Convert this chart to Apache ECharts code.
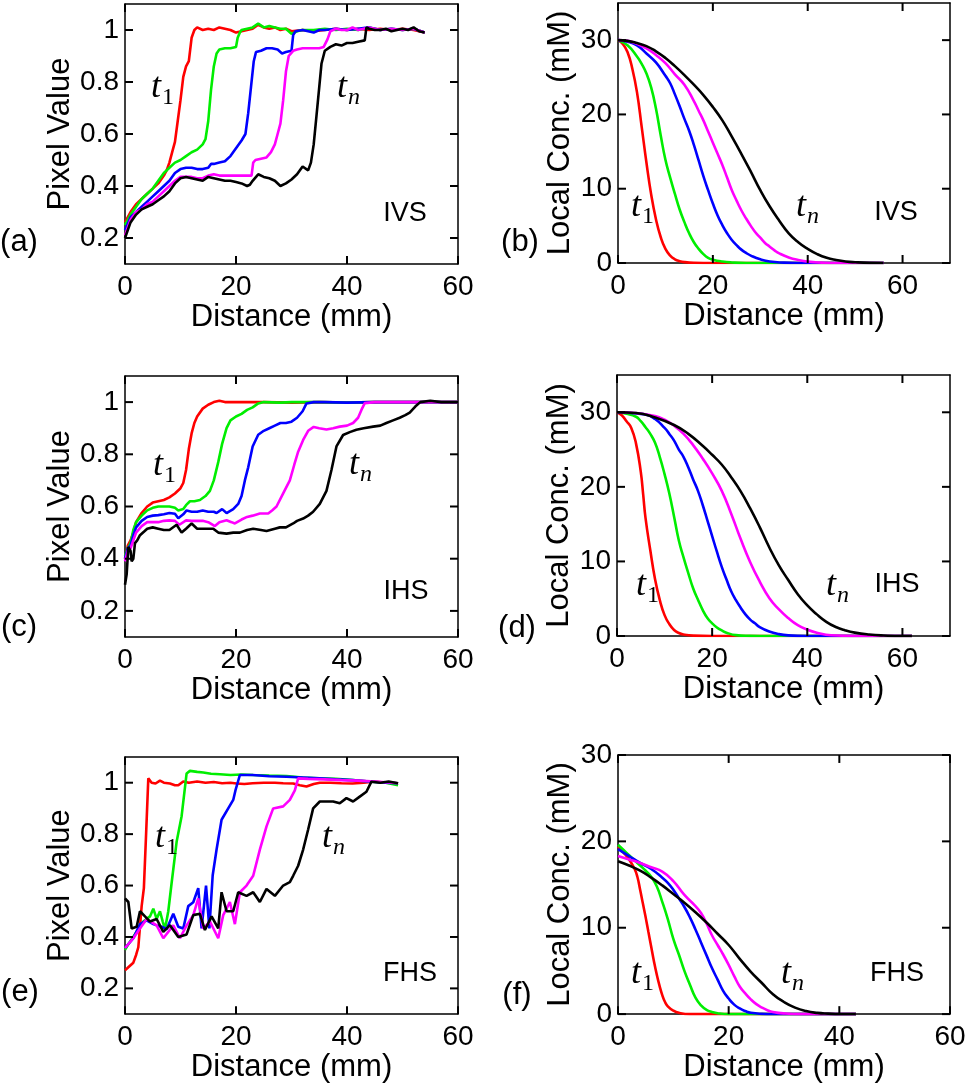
<!DOCTYPE html>
<html>
<head>
<meta charset="utf-8">
<script src="https://cdn.jsdelivr.net/npm/echarts@6/dist/echarts.min.js"></script>
<style>
  html, body { margin: 0; padding: 0; background: #fff; }
  #chart { width: 969px; height: 1084px; }
</style>
</head>
<body>
<div id="chart"></div>
<script>
// ---- data: [distance (mm), value] ----
// (a) IVS pixel profiles
const ivsRed = [[0,0.26],[1,0.30],[2,0.33],[3,0.35],[4,0.37],[5,0.39],[6,0.41],[7,0.44],[7.5,0.46],[8,0.49],[8.5,0.53],[9,0.57],[9.5,0.65],[10,0.73],[10.5,0.82],[11,0.86],[11.5,0.88],[12,0.97],[12.5,1.0],[13,1.01],[14,1.0],[15,1.005],[16,1.0],[17,1.01],[18,1.005],[19,1.0],[20,0.99],[21,0.995],[22,1.0],[23,1.005],[24,1.02],[25,1.01],[26,1.005],[27,1.01],[28,1.0],[29,1.005],[30,0.995],[32,1.0],[34,0.995],[36,1.0],[38,1.005],[40,1.0],[42,1.005],[44,1.0],[46,1.005],[48,1.0],[50,1.005],[52,1.0],[54,0.99]];
const ivsGreen = [[0,0.25],[1,0.29],[2,0.32],[3,0.35],[4,0.37],[5,0.39],[6,0.42],[7,0.45],[8,0.47],[9,0.49],[10,0.50],[11,0.515],[12,0.53],[13,0.54],[14,0.56],[14.5,0.58],[15,0.65],[15.5,0.77],[16,0.86],[16.5,0.91],[17,0.925],[18,0.93],[19,0.93],[20,0.935],[20.3,0.97],[20.7,0.99],[21,1.0],[22,1.005],[23,1.01],[24,1.025],[25,1.01],[26,1.015],[27,1.01],[28,1.005],[29,1.005],[30,0.985],[31,0.995],[32,1.0],[34,1.0],[36,1.005],[38,1.0],[40,1.005],[42,1.0],[44,1.01],[46,1.0],[48,1.005],[50,1.0],[52,1.005],[54,0.99]];
const ivsBlue = [[0,0.23],[1,0.28],[2,0.30],[3,0.32],[4,0.34],[5,0.36],[6,0.38],[7,0.40],[8,0.42],[9,0.45],[10,0.465],[11,0.47],[12,0.47],[13,0.465],[14,0.465],[15,0.47],[15.5,0.485],[16,0.485],[17,0.49],[18,0.495],[19,0.515],[20,0.545],[21,0.575],[21.7,0.60],[22.2,0.68],[22.7,0.78],[23.2,0.88],[23.6,0.915],[24.5,0.92],[25.5,0.93],[26.5,0.93],[27.5,0.925],[28.3,0.91],[29,0.915],[30,0.92],[30.3,0.98],[30.7,0.995],[32,1.0],[33,0.995],[34,0.99],[35,1.0],[36,1.0],[38,1.005],[40,1.0],[42,1.005],[44,1.01],[46,1.0],[48,1.005],[50,1.0],[52,1.005],[54,0.99]];
const ivsMagenta = [[0,0.21],[1,0.27],[2,0.30],[3,0.31],[4,0.33],[5,0.34],[6,0.36],[7,0.38],[8,0.40],[9,0.42],[10,0.435],[11,0.435],[12,0.435],[13,0.43],[14,0.43],[15,0.44],[16,0.445],[17,0.44],[18,0.44],[19,0.44],[20,0.44],[21,0.44],[22,0.44],[22.8,0.44],[23.1,0.49],[23.5,0.50],[24.5,0.505],[25.5,0.51],[26.3,0.53],[27,0.56],[27.5,0.60],[28,0.64],[28.5,0.73],[29,0.84],[29.5,0.90],[30.3,0.92],[31,0.925],[32,0.93],[33,0.93],[34,0.93],[35,0.93],[35.8,0.935],[36.5,0.965],[37,0.995],[38,1.005],[39,1.0],[40,1.0],[41,1.01],[42,1.0],[43,1.005],[44,1.01],[46,1.0],[48,1.005],[50,1.0],[52,1.005],[54,0.99]];
const ivsBlack = [[0,0.20],[1,0.26],[2,0.29],[3,0.31],[4,0.32],[5,0.33],[6,0.345],[7,0.36],[8,0.38],[9,0.41],[10,0.43],[11,0.435],[12,0.43],[13,0.425],[14,0.42],[15,0.435],[16,0.43],[17,0.425],[18,0.42],[19,0.42],[20,0.415],[21,0.41],[22,0.40],[22.5,0.405],[23,0.42],[24,0.445],[25,0.435],[26,0.43],[27,0.42],[28,0.40],[29,0.41],[30,0.425],[31,0.445],[32,0.475],[33,0.46],[33.5,0.49],[34,0.56],[34.5,0.67],[35,0.78],[35.4,0.87],[36,0.92],[37,0.935],[38,0.945],[39,0.94],[40,0.95],[41,0.95],[42,0.955],[43.2,0.96],[43.5,1.01],[44,1.005],[45,1.0],[46,1.0],[47,1.005],[48,0.995],[49,1.0],[50,1.005],[51,1.0],[52,1.01],[53,0.995],[54,0.99]];

// (b) IVS concentration
const ivsConcRed = [[0,30],[1,29.5],[2,28.4],[3,26.2],[4,23.0],[5,18.3],[6,13.5],[7,9.2],[8,5.9],[9,3.5],[10,1.9],[11,1.0],[12,0.5],[13,0.25],[14,0.12],[16,0.03],[20,0],[56,0]];
const ivsConcGreen = [[0,30],[2,29.3],[4,27.8],[5,26.8],[6,25.5],[7,23.6],[8,20.8],[9,17.2],[10,13.9],[11,11.5],[12,9.3],[13,7.2],[14,5.5],[15,4.0],[16,2.8],[17,1.9],[18,1.2],[19,0.7],[20,0.45],[22,0.2],[24,0.07],[27,0],[56,0]];
const ivsConcBlue = [[0,30],[2,29.8],[4,29.3],[6,28.2],[8,27.0],[10,25.2],[11,24.2],[12,22.7],[13,21.1],[14,19.4],[15,17.8],[16,15.9],[17,13.8],[18,11.7],[19,9.8],[20,8.0],[21,6.4],[22,5.1],[23,4.0],[24,3.1],[25,2.4],[26,1.8],[27,1.35],[28,1.0],[30,0.5],[32,0.2],[35,0.05],[38,0],[56,0]];
const ivsConcMagenta = [[0,30],[2,29.9],[4,29.5],[6,28.9],[8,28.0],[10,26.9],[12,25.4],[14,24.0],[16,21.8],[17,20.5],[18,19.2],[19,17.7],[20,16.2],[21,14.7],[22,13.2],[23,11.5],[24,9.8],[25,8.4],[26,7.1],[27,6.0],[28,5.0],[29,4.1],[30,3.4],[31,2.7],[32,2.2],[33,1.7],[34,1.3],[36,0.75],[38,0.4],[40,0.18],[43,0.05],[46,0],[56,0]];
const ivsConcBlack = [[0,30],[2,29.9],[4,29.6],[6,29.2],[8,28.5],[10,27.6],[12,26.5],[14,25.3],[16,24.0],[18,22.6],[20,21.0],[22,19.2],[24,17.0],[26,14.7],[28,12.3],[30,9.8],[32,7.6],[34,5.7],[36,4.0],[38,2.8],[40,1.9],[42,1.2],[44,0.7],[46,0.4],[48,0.2],[50,0.1],[53,0.02],[56,0]];

// (c) IHS pixel profiles
const ihsRed = [[0,0.40],[0.5,0.45],[1,0.47],[1.5,0.50],[2,0.54],[3,0.575],[4,0.60],[5,0.615],[6,0.62],[7,0.625],[8,0.635],[9,0.65],[10,0.67],[10.5,0.69],[11,0.74],[11.5,0.82],[12,0.88],[12.5,0.92],[13,0.945],[14,0.975],[15,0.99],[16,1.0],[17,1.005],[18,1.0],[20,1.0],[25,1.0],[30,0.998],[35,1.0],[40,0.998],[45,1.0],[50,1.0],[55,1.0],[60,1.0]];
const ihsGreen = [[0,0.41],[0.5,0.44],[1,0.46],[1.5,0.51],[2,0.54],[3,0.565],[4,0.585],[5,0.595],[6,0.60],[7,0.60],[8,0.60],[9,0.595],[9.6,0.585],[10.5,0.59],[11,0.605],[11.7,0.62],[12.5,0.62],[13.5,0.625],[14.5,0.64],[15.3,0.66],[16,0.70],[16.8,0.77],[17.5,0.84],[18.3,0.90],[19,0.93],[20,0.945],[21,0.955],[22,0.97],[23,0.98],[24,0.995],[25,1.0],[28,0.998],[30,1.0],[35,1.0],[40,0.998],[45,1.0],[50,1.0],[55,1.0],[60,1.0]];
const ihsBlue = [[0,0.40],[0.5,0.44],[1,0.45],[1.5,0.49],[2,0.52],[3,0.545],[4,0.56],[5,0.565],[6,0.567],[7,0.57],[8,0.575],[9,0.572],[9.6,0.555],[10.5,0.57],[11.1,0.585],[12,0.58],[13,0.58],[14,0.585],[15,0.58],[16,0.58],[16.5,0.575],[17.5,0.59],[18.3,0.575],[19.5,0.59],[20.4,0.61],[21,0.64],[21.6,0.70],[22.2,0.75],[23,0.83],[24,0.875],[25,0.89],[26,0.90],[27,0.91],[28,0.92],[29,0.92],[30,0.925],[31,0.94],[32,0.965],[32.7,0.995],[34,1.0],[36,1.0],[40,0.998],[45,1.0],[50,1.0],[55,1.0],[60,1.0]];
const ihsMagenta = [[0,0.39],[0.5,0.43],[1,0.44],[1.5,0.47],[2,0.50],[3,0.525],[4,0.54],[5,0.54],[6,0.54],[7,0.545],[8,0.547],[9,0.545],[9.8,0.53],[11,0.547],[12,0.545],[13,0.545],[14,0.545],[15,0.54],[16.2,0.525],[17,0.54],[18.3,0.547],[19.2,0.54],[19.8,0.535],[21,0.55],[22,0.56],[23,0.565],[24.3,0.573],[25.8,0.573],[26.5,0.585],[27.3,0.60],[28.5,0.65],[29.7,0.70],[30.5,0.76],[31.2,0.81],[32.1,0.855],[33,0.89],[34,0.905],[35,0.90],[36.3,0.895],[37.5,0.90],[38.7,0.906],[40,0.91],[41.1,0.92],[42,0.94],[42.6,0.97],[43.2,0.996],[45,1.0],[50,1.0],[55,1.0],[60,1.0]];
const ihsBlack = [[0,0.30],[0.3,0.34],[0.6,0.445],[1,0.43],[1.2,0.39],[1.5,0.40],[1.8,0.46],[2.2,0.47],[2.7,0.49],[3.5,0.505],[4,0.515],[5,0.52],[6,0.515],[7,0.51],[8,0.51],[9.3,0.53],[10.2,0.50],[11,0.515],[12,0.535],[13,0.515],[14,0.515],[15,0.515],[15.9,0.515],[16.8,0.50],[18.3,0.496],[19.5,0.50],[20.7,0.50],[22,0.51],[23.1,0.515],[24.5,0.51],[25.5,0.506],[27,0.515],[27.9,0.52],[29,0.52],[30.3,0.535],[31,0.545],[32.1,0.554],[33,0.565],[33.9,0.58],[35.1,0.61],[36.3,0.66],[37.2,0.74],[38.1,0.83],[39.3,0.874],[40.5,0.885],[41.7,0.894],[43,0.90],[44.7,0.906],[46,0.91],[47.1,0.92],[48.3,0.93],[49.5,0.94],[50.5,0.95],[51.3,0.96],[52.3,0.983],[53.2,1.0],[55,1.005],[57,1.0],[60,1.0]];

// (d) IHS concentration
const ihsConcRed = [[0,30],[1,29.6],[2,28.8],[3,27.9],[4,25.8],[5,22.0],[5.5,19.0],[6,15.8],[7,11.5],[8,7.6],[9,4.8],[10,2.8],[11,1.6],[12,0.8],[13,0.4],[14,0.2],[16,0.05],[20,0],[62,0]];
const ihsConcGreen = [[0,30],[2,29.8],[4,29.4],[5,28.8],[6,28.0],[7,27.1],[8,25.9],[9,24.0],[10,21.7],[11,19.1],[12,16.0],[13,12.8],[14,10.5],[15,8.4],[16,6.4],[17,4.9],[18,3.5],[19,2.4],[20,1.7],[21,1.15],[22,0.75],[23,0.45],[25,0.12],[28,0.02],[30,0],[62,0]];
const ihsConcBlue = [[0,30],[3,29.9],[6,29.7],[8,29.1],[10,27.9],[11,27.1],[12,26.2],[13,25.0],[14,24.0],[15,22.6],[16,21.0],[17,19.5],[18,17.6],[19,15.5],[20,13.4],[21,11.3],[22,9.3],[23,7.6],[24,6.0],[25,4.8],[26,3.8],[27,2.9],[28,2.2],[29,1.7],[30,1.2],[32,0.6],[34,0.25],[36,0.08],[40,0],[62,0]];
const ihsConcMagenta = [[0,30],[4,29.9],[8,29.5],[10,29.0],[12,28.2],[14,27.1],[16,25.6],[18,23.8],[20,21.8],[22,19.5],[24,16.4],[26,13.0],[28,9.9],[30,7.3],[32,5.1],[34,3.6],[36,2.4],[38,1.45],[40,0.85],[42,0.45],[45,0.1],[50,0],[62,0]];
const ihsConcBlack = [[0,30],[4,29.9],[8,29.3],[12,28.3],[15,27.1],[18,25.5],[20,24.3],[22,23.0],[24,21.3],[26,19.4],[28,17.1],[30,14.6],[32,11.9],[34,9.5],[36,7.5],[38,5.6],[40,4.1],[42,2.9],[44,1.9],[46,1.2],[48,0.75],[50,0.45],[53,0.2],[56,0.07],[60,0],[62,0]];

// (e) FHS pixel profiles
const fhsRed = [[0,0.27],[0.5,0.28],[1.5,0.30],[2,0.33],[2.4,0.36],[3,0.52],[3.4,0.59],[3.8,0.80],[4.2,1.017],[4.8,1.0],[5.5,0.997],[6.3,1.008],[7,1.0],[8.1,0.997],[9,0.99],[9.6,0.99],[10.5,1.005],[11.5,1.0],[13,1.005],[14.5,1.0],[16,1.003],[17.5,0.998],[19,1.0],[20.1,0.997],[21.5,0.995],[23,0.998],[25,1.0],[27,1.0],[28.5,0.998],[30.3,0.997],[31.5,0.99],[32.7,0.985],[34,0.995],[35.1,1.0],[37,1.0],[39,0.998],[41,0.997],[43,1.0],[45,1.005],[47,1.0],[49.2,0.998]];
const fhsGreen = [[0,0.35],[0.7,0.375],[2.1,0.42],[3.3,0.46],[4.5,0.48],[5.1,0.51],[5.7,0.47],[6.3,0.50],[6.8,0.46],[7.2,0.43],[7.8,0.50],[8.4,0.61],[9.3,0.77],[10.2,0.87],[11.1,1.036],[11.7,1.046],[13,1.042],[14.1,1.04],[15.5,1.035],[17.1,1.033],[19,1.03],[21,1.032],[23.1,1.03],[26,1.028],[29.1,1.026],[32,1.02],[35,1.017],[38,1.015],[41,1.01],[44,1.005],[47,1.0],[49.2,0.99]];
const fhsBlue = [[0,0.357],[1.5,0.395],[2.7,0.45],[3.9,0.465],[5.1,0.45],[5.7,0.445],[6.6,0.44],[7.5,0.43],[8.7,0.49],[9.6,0.44],[10.5,0.433],[11.4,0.52],[12.3,0.535],[13.2,0.59],[13.8,0.433],[14.6,0.60],[15.2,0.433],[15.8,0.64],[16.5,0.74],[17.4,0.856],[18.6,0.90],[19.5,0.933],[19.9,0.97],[20.7,1.03],[23,1.03],[26,1.025],[29.1,1.023],[32,1.02],[35,1.017],[38,1.013],[41,1.01],[44,1.005],[47,1.0],[49.2,0.998]];
const fhsMagenta = [[0,0.357],[1.5,0.395],[2.7,0.433],[3.9,0.47],[5.7,0.445],[6.9,0.395],[8.7,0.445],[9.9,0.395],[11.1,0.445],[12.3,0.485],[13.2,0.55],[14.1,0.433],[15.3,0.46],[16.8,0.395],[17.7,0.485],[18.9,0.536],[19.8,0.45],[20.7,0.574],[21.9,0.60],[23.1,0.638],[24.3,0.74],[25.5,0.83],[26.7,0.90],[28.5,0.908],[29.7,0.933],[30.6,0.97],[31.2,1.017],[33,1.015],[36,1.013],[39,1.01],[42,1.008],[45,1.005],[47,1.002],[49.2,0.998]];
const fhsBlack = [[0,0.55],[0.6,0.536],[1.2,0.433],[2.1,0.44],[2.7,0.50],[3.6,0.48],[4.5,0.46],[5.7,0.47],[6.9,0.42],[8.1,0.446],[9.6,0.40],[11.1,0.41],[12.3,0.485],[13.5,0.49],[14.4,0.427],[15.6,0.48],[16.8,0.433],[17.4,0.574],[18.3,0.50],[19.5,0.50],[20.4,0.574],[21.9,0.56],[23.1,0.574],[24.3,0.536],[25.5,0.587],[27,0.56],[28.5,0.60],[29.7,0.613],[30.3,0.638],[31.2,0.677],[32.1,0.74],[33,0.818],[33.9,0.90],[35.1,0.927],[37.5,0.927],[38.7,0.92],[39.9,0.94],[41.1,0.927],[42.3,0.946],[43.5,0.965],[44.4,1.004],[46,1.0],[47.5,1.005],[49.2,0.998]];

// (f) FHS concentration
const fhsConcRed = [[0,19.4],[1,18.7],[2,17.9],[3,16.8],[3.5,15.9],[4,14.4],[4.5,12.8],[5,11.2],[5.5,9.5],[6,7.8],[6.5,6.1],[7,4.6],[7.5,3.3],[8,2.2],[8.5,1.4],[9,0.9],[10,0.4],[11,0.15],[13,0],[43,0]];
const fhsConcGreen = [[0,19.6],[1,19.0],[2,18.4],[3,17.8],[4,17.2],[5,16.6],[6,15.9],[7,14.8],[8,13.0],[9,11.0],[10,8.7],[11,6.9],[12,5.0],[13,3.4],[14,1.9],[15,1.0],[16,0.5],[17,0.25],[18,0.1],[20,0],[43,0]];
const fhsConcBlue = [[0,19.1],[2,18.3],[4,17.5],[6,16.8],[8,15.8],[9,15.2],[10,14.4],[11,13.4],[12,12.4],[13,11.2],[14,9.8],[15,8.3],[16,6.8],[17,5.3],[18,4.0],[19,2.7],[20,1.8],[21,1.1],[22,0.65],[23,0.35],[24,0.15],[26,0.03],[28,0],[43,0]];
const fhsConcMagenta = [[0,18.3],[2,17.9],[4,17.5],[6,17.0],[8,16.5],[10,15.4],[12,13.8],[14,12.5],[15,11.7],[16,10.5],[17,9.1],[18,8.0],[19,6.9],[20,5.7],[21,4.4],[22,3.2],[23,2.4],[24,1.7],[25,1.15],[26,0.75],[27,0.45],[28,0.25],[30,0.08],[33,0],[43,0]];
const fhsConcBlack = [[0,17.7],[2,17.2],[4,16.6],[6,15.8],[8,14.9],[10,13.9],[12,12.9],[14,11.8],[16,10.6],[18,9.3],[20,8.0],[22,6.4],[24,4.9],[26,3.6],[28,2.3],[30,1.4],[32,0.75],[34,0.35],[36,0.14],[38,0.05],[40,0],[43,0]];

// tick values
const pixelTicks = [0.2, 0.4, 0.6, 0.8, 1];
const concTicks = [0, 10, 20, 30];
const distTicks = [0, 20, 40, 60];

const colors = ['#ff0000', '#00ee00', '#0000ff', '#ff00ff', '#000000'];
const FONT = 'Liberation Sans, Arial, sans-serif';

const panels = [
  { grid: { left: 125, top: 4, width: 333, height: 260 }, x: [0, 60], y: [0.1, 1.1], yTicks: pixelTicks,
    yName: 'Pixel Value', yGap: 48, smooth: false,
    lines: [ivsRed, ivsGreen, ivsBlue, ivsMagenta, ivsBlack] },
  { grid: { left: 618, top: 3, width: 332, height: 260 }, x: [0, 70], y: [0, 35], yTicks: concTicks,
    yName: 'Local Conc. (mM)', yGap: 42, smooth: true,
    lines: [ivsConcRed, ivsConcGreen, ivsConcBlue, ivsConcMagenta, ivsConcBlack] },
  { grid: { left: 125, top: 376, width: 333, height: 261 }, x: [0, 60], y: [0.1, 1.1], yTicks: pixelTicks,
    yName: 'Pixel Value', yGap: 48, smooth: false,
    lines: [ihsRed, ihsGreen, ihsBlue, ihsMagenta, ihsBlack] },
  { grid: { left: 617, top: 375, width: 333, height: 261 }, x: [0, 70], y: [0, 35], yTicks: concTicks,
    yName: 'Local Conc. (mM)', yGap: 42, smooth: true,
    lines: [ihsConcRed, ihsConcGreen, ihsConcBlue, ihsConcMagenta, ihsConcBlack] },
  { grid: { left: 125, top: 757, width: 333, height: 260 }, x: [0, 60], y: [0.1, 1.1], yTicks: pixelTicks,
    yName: 'Pixel Value', yGap: 48, smooth: false,
    lines: [fhsRed, fhsGreen, fhsBlue, fhsMagenta, fhsBlack] },
  { grid: { left: 618, top: 755, width: 332, height: 261 }, x: [0, 60], y: [0, 30], yTicks: concTicks,
    yName: 'Local Conc. (mM)', yGap: 42, smooth: true,
    lines: [fhsConcRed, fhsConcGreen, fhsConcBlue, fhsConcMagenta, fhsConcBlack] },
];

const frameStyle = { color: '#000', width: 1.5 };
const labelStyle = { fontSize: 28, color: '#000', fontFamily: FONT };
const nameStyle = { fontSize: 31, color: '#000', fontFamily: FONT };
const TICK = 8; // px, inward

const grids = [], xAxes = [], yAxes = [], series = [];

panels.forEach((p, i) => {
  grids.push(Object.assign({ containLabel: false }, p.grid));

  // bottom + top x axes make the closed box
  ['bottom', 'top'].forEach((pos) => {
    const main = pos === 'bottom';
    xAxes.push({
      type: 'value', gridIndex: i, position: pos, min: p.x[0], max: p.x[1],
      axisLine: { show: true, onZero: false, lineStyle: frameStyle },
      axisTick: { show: false },
      axisLabel: Object.assign({ show: main, margin: 9, customValues: distTicks }, labelStyle),
      splitLine: { show: false },
      name: main ? 'Distance (mm)' : '', nameLocation: 'middle', nameGap: 32, nameTextStyle: nameStyle,
    });
  });
  ['left', 'right'].forEach((pos) => {
    const main = pos === 'left';
    yAxes.push({
      type: 'value', gridIndex: i, position: pos, min: p.y[0], max: p.y[1],
      axisLine: { show: true, onZero: false, lineStyle: frameStyle },
      axisTick: { show: false },
      axisLabel: Object.assign({ show: main, margin: 6, customValues: p.yTicks }, labelStyle),
      splitLine: { show: false },
      name: main ? p.yName : '', nameLocation: 'middle', nameGap: p.yGap, nameTextStyle: nameStyle,
    });
  });

  p.lines.forEach((d, k) => {
    series.push({
      type: 'line', xAxisIndex: 2 * i, yAxisIndex: 2 * i, data: d,
      showSymbol: false, smooth: p.smooth,
      lineStyle: { color: colors[k], width: 2.6 },
      clip: true, silent: true,
    });
  });

  // inward tick marks: short line segments whose length is TICK px in each axis' units
  const dx = TICK * (p.x[1] - p.x[0]) / p.grid.width;
  const dy = TICK * (p.y[1] - p.y[0]) / p.grid.height;
  const tickSegs = [];
  distTicks.forEach((v) => {
    tickSegs.push([[v, p.y[0]], [v, p.y[0] + dy]]);
    tickSegs.push([[v, p.y[1]], [v, p.y[1] - dy]]);
  });
  p.yTicks.forEach((v) => {
    tickSegs.push([[p.x[0], v], [p.x[0] + dx, v]]);
    tickSegs.push([[p.x[1], v], [p.x[1] - dx, v]]);
  });
  tickSegs.forEach((s) => {
    series.push({
      type: 'line', xAxisIndex: 2 * i, yAxisIndex: 2 * i, data: s,
      showSymbol: false, silent: true, clip: false, z: 10,
      lineStyle: { color: '#000', width: 2 },
    });
  });
});

// text annotations: panel letters, t1 / tn markers, sample names
const panelText = [
  { id: '(a)', x: 19, y: 242 }, { id: '(b)', x: 520, y: 242 },
  { id: '(c)', x: 19, y: 627 }, { id: '(d)', x: 517, y: 628 },
  { id: '(e)', x: 20, y: 992 }, { id: '(f)', x: 517, y: 995 },
];
const sampleText = [
  { id: 'IVS', x: 405, y: 214 }, { id: 'IVS', x: 896, y: 213 },
  { id: 'IHS', x: 406, y: 592 }, { id: 'IHS', x: 897, y: 585 },
  { id: 'FHS', x: 410, y: 974 }, { id: 'FHS', x: 897, y: 974 },
];
const tMarks = [
  { sub: '1', x: 156, y: 88 }, { sub: 'n', x: 342, y: 88 },
  { sub: '1', x: 636, y: 207 }, { sub: 'n', x: 801, y: 207 },
  { sub: '1', x: 158, y: 466 }, { sub: 'n', x: 354, y: 465 },
  { sub: '1', x: 641, y: 586 }, { sub: 'n', x: 831, y: 586 },
  { sub: '1', x: 160, y: 838 }, { sub: 'n', x: 327, y: 838 },
  { sub: '1', x: 636, y: 974 }, { sub: 'n', x: 786, y: 974 },
];

const graphic = [];
const txt = (s, x, y, font) => ({
  type: 'text', x, y, silent: true, z: 10,
  style: { text: s, font, fill: '#000', align: 'center', verticalAlign: 'middle' },
});
panelText.forEach((t) => graphic.push(txt(t.id, t.x, t.y, '31px ' + FONT)));
sampleText.forEach((t) => graphic.push(txt(t.id, t.x, t.y, '27px ' + FONT)));
tMarks.forEach((t) => {
  graphic.push(txt('t', t.x, t.y, 'italic 36px "Liberation Serif", "DejaVu Serif", serif'));
  const subFont = (t.sub === 'n' ? 'italic ' : '') + '24px "Liberation Serif", "DejaVu Serif", serif';
  graphic.push(txt(t.sub, t.x + 12, t.y + 10, subFont));
});

const chart = echarts.init(document.getElementById('chart'), null, { renderer: 'canvas' });
chart.setOption({
  animation: false,
  backgroundColor: '#fff',
  grid: grids,
  xAxis: xAxes,
  yAxis: yAxes,
  series,
  graphic,
});
</script>
</body>
</html>
